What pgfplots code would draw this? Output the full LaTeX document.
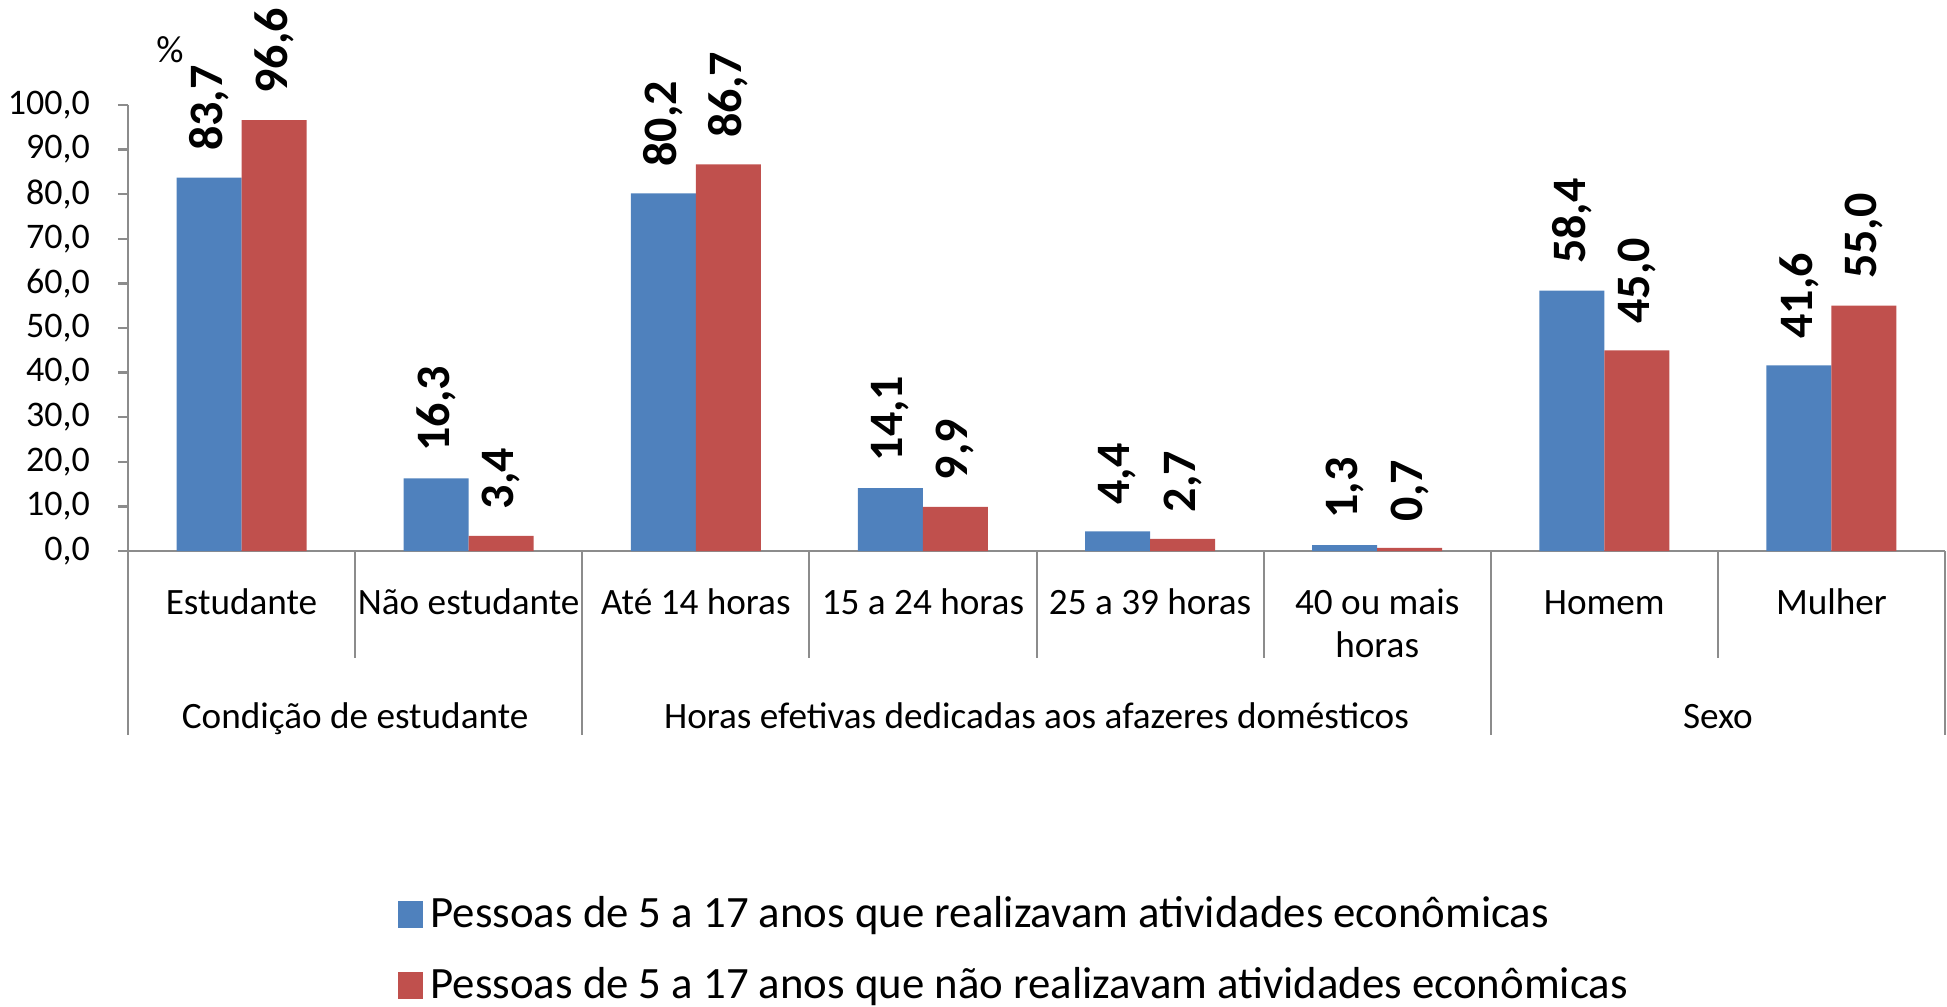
\documentclass[border=0pt]{standalone}
\usepackage{fontspec}
\setmainfont{Carlito}
\usepackage{pgfplots}
\pgfplotsset{compat=1.18}
\definecolor{serieA}{HTML}{4F81BD}
\definecolor{serieB}{HTML}{C0504D}
\definecolor{eixo}{HTML}{8C8C8C}
\newcommand{\duas}[2]{\vtop{\baselineskip=10.75pt\halign{\hfil##\hfil\cr #1\cr #2\cr}}}

\begin{document}
\begin{tikzpicture}
\useasboundingbox (-32pt,-113.75pt) rectangle (454.75pt,137.75pt);
\begin{axis}[
  at={(0,0)}, anchor=south west,
  scale only axis,
  width=454.25pt, height=111.5pt,
  xmin=0, xmax=8, ymin=0, ymax=100,
  axis x line*=bottom, axis y line*=left,
  axis line style={eixo, line width=0.6pt},
  clip=false,
  ybar=0pt,
  bar width=0.286,
  ytick={0,10,...,100},
  ytick style={eixo, line width=0.6pt},
  tick align=outside,
  major tick length=2.5pt,
  yticklabel style={font=\fontsize{9}{11}\selectfont, xshift=-3.5pt},
  /pgf/number format/.cd, fixed, fixed zerofill, precision=1, use comma, assume math mode=true,
  /pgfplots/.cd,
  xtick={0.5,1.5,...,7.5},
  xticklabels={Estudante, Não estudante, Até 14 horas, 15 a 24 horas, 25 a 39 horas, \duas{40 ou mais}{horas}, Homem, Mulher},
  x tick style={draw=none},
  xticklabel style={anchor=base, yshift=-13.25pt, inner sep=0pt, font=\fontsize{9.3}{11}\selectfont},
  nodes near coords,
  every node near coord/.append style={rotate=90, anchor=west, inner xsep=6.5pt, inner ysep=0pt, font=\fontsize{12}{14}\selectfont\bfseries, black},
  legend style={draw=none, fill=none, inner sep=0pt, at={(rel axis cs:0.148,-0.755)}, anchor=north west,
    row sep=4.5pt, font=\fontsize{11.2}{13.4}\selectfont, /tikz/every even column/.append style={column sep=3.5pt}},
  legend cell align=left,
  legend image code/.code={\fill[#1] (0pt,-3.2pt) rectangle (6.25pt,3.55pt);},
]
\addplot[fill=serieA, draw=none, bar shift=-0.143] coordinates {(0.5,83.7) (1.5,16.3) (2.5,80.2) (3.5,14.1) (4.5,4.4) (5.5,1.3) (6.5,58.4) (7.5,41.6)};
\addplot[fill=serieB, draw=none, bar shift=0.143] coordinates {(0.5,96.6) (1.5,3.4) (2.5,86.7) (3.5,9.9) (4.5,2.7) (5.5,0.7) (6.5,45.0) (7.5,55.0)};
\legend{Pessoas de 5 a 17 anos que realizavam atividades econômicas, Pessoas de 5 a 17 anos que não realizavam atividades econômicas}

% separadores das categorias
\pgfplotsinvokeforeach{1,3,4,5,7}{\draw[eixo, line width=0.5pt] (axis cs:#1,0) -- ++(0,-26.75pt);}
\pgfplotsinvokeforeach{0,2,6,8}{\draw[eixo, line width=0.5pt] (axis cs:#1,0) -- ++(0,-46pt);}
% grupos
\node[anchor=base, inner sep=0pt, font=\fontsize{9.3}{11}\selectfont] at ([yshift=-44.25pt]axis cs:1,0) {Condição de estudante};
\node[anchor=base, inner sep=0pt, font=\fontsize{9.3}{11}\selectfont] at ([yshift=-44.25pt]axis cs:4,0) {Horas efetivas dedicadas aos afazeres domésticos};
\node[anchor=base, inner sep=0pt, font=\fontsize{9.3}{11}\selectfont] at ([yshift=-44.25pt]axis cs:7,0) {Sexo};
\node[inner sep=0pt, font=\fontsize{9.5}{11}\selectfont] at ([xshift=10.5pt, yshift=125.25pt]rel axis cs:0,0) {\%};
\end{axis}
\end{tikzpicture}
\end{document}
